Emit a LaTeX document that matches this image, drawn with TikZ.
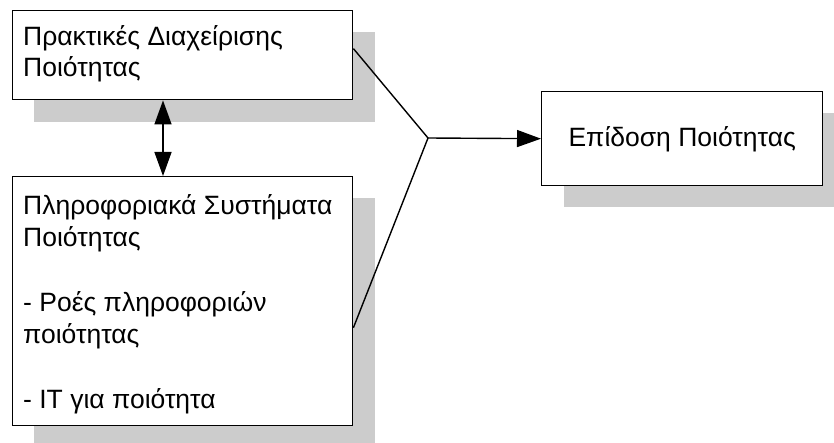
\documentclass[tikz,border=0pt]{standalone}
\usepackage{fontspec}
\setmainfont{Liberation Sans}
\usetikzlibrary{arrows.meta,calc}
\definecolor{shadowgray}{HTML}{CCCCCC}
\tikzset{head/.tip={Triangle[length=24pt,width=17pt]}}
\begin{document}
\begin{tikzpicture}[x=1pt,y=-1pt,
  box/.style={draw=black, line width=1.4pt, fill=white, inner sep=0pt, anchor=north west},
  shade/.style={fill=shadowgray, draw=none},
  txt/.style={inner sep=0pt, anchor=base west, font=\fontsize{26.5}{31}\selectfont},
  link/.style={line width=1.4pt, draw=black}
]
\useasboundingbox (0,0) rectangle (834,443);

% drop shadows behind the boxes
\fill[shade] (34,32) rectangle (375,122);
\fill[shade] (34,198) rectangle (375,443);
\fill[shade] (564,113) rectangle (834,207);

% boxes
\node[box, minimum width=340pt, minimum height=89pt] (pract) at (12,10) {};
\node[box, minimum width=340pt, minimum height=249pt] (info) at (12,176) {};
\node[box, minimum width=281pt, minimum height=94pt] (perf) at (541,91) {};

% box texts
\node[txt] (p1) at (23,46) {Πρακτικές Διαχείρισης};
\node[txt] (p2) at (23,77) {Ποιότητας};
\node[txt] (i1) at (23,215) {Πληροφοριακά Συστήματα};
\node[txt] (i2) at (23,247) {Ποιότητας};
\node[txt] (i3) at (23,311) {- Ροές πληροφοριών};
\node[txt] (i4) at (23,343) {ποιότητας};
\node[txt] (i5) at (23,408) {- IT για ποιότητα};
\node[txt, anchor=base] (e1) at (perf.center |- 0,147) {Επίδοση Ποιότητας};

% connectors
\coordinate (join) at (428,138);
\draw[link] ($(pract.north east)!0.427!(pract.south east)$) -- (join);
\draw[link] ($(info.north east)!0.606!(info.south east)$) -- (join);
\draw[link, -head] (join) -- (perf.west);
\draw[link, head-head] ([xshift=151pt]pract.south west) -- ([xshift=151pt]info.north west);
\end{tikzpicture}
\end{document}
